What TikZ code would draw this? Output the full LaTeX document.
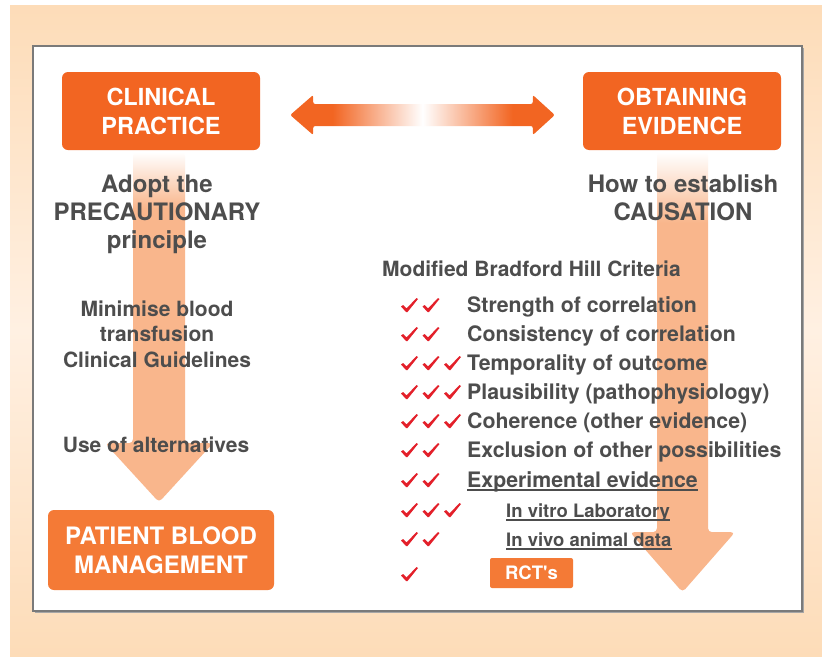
\documentclass[tikz,border=0pt]{standalone}
\usepackage{fontspec}
\setmainfont{TeX Gyre Heros}
\usetikzlibrary{calc}

\definecolor{boxorange}{HTML}{F26522}
\definecolor{softorange}{HTML}{F47A36}
\definecolor{arrowpeach}{HTML}{F9B68C}
\definecolor{darktext}{HTML}{4D4D4D}
\definecolor{tickred}{HTML}{E3202A}
\definecolor{bgpeach}{HTML}{FDDCB8}
\definecolor{bglight}{HTML}{FFF0E2}
\definecolor{framegrey}{HTML}{7A7A7A}

% fat arrows fade out towards their start
\pgfdeclareverticalshading{fadedown}{100bp}{color(0bp)=(arrowpeach); color(67bp)=(arrowpeach); color(75bp)=(white); color(100bp)=(white)}
\pgfdeclarehorizontalshading{fadeboth}{100bp}{color(0bp)=(boxorange); color(33bp)=(boxorange); color(50bp)=(white); color(67bp)=(boxorange); color(100bp)=(boxorange)}

\tikzset{
  headbox/.style={fill=boxorange, rounded corners=6pt, text=white, align=center,
    font=\bfseries\fontsize{23.5}{29}\selectfont, minimum width=198pt, minimum height=78pt},
  big/.style={text=darktext, font=\bfseries\fontsize{24}{28}\selectfont, align=center, inner sep=0pt, anchor=base},
  mid/.style={text=darktext, font=\bfseries\fontsize{21}{25.5}\selectfont, align=center, inner sep=0pt, anchor=base},
  item/.style={text=darktext, font=\bfseries\fontsize{21.3}{25}\selectfont, inner sep=0pt, anchor=base west},
  subitem/.style={item, font=\bfseries\fontsize{18.5}{22}\selectfont},
  uline/.style={darktext, line width=1.3pt},
  redtick/.pic={\fill[tickred] (0,8.5) -- (2.2,7) -- (5.5,10.5) -- (15.5,0) -- (17,1) -- (6.5,14) -- (5,14) -- cycle;},
}
% #1 ticks in front of the line with baseline #2
\newcommand\tickrow[2]{\foreach \k in {1,...,#1}{\pic at ({401+21.5*(\k-1)},#2-14) {redtick};}}

\begin{document}
\begin{tikzpicture}[x=1pt,y=-1pt]
\useasboundingbox (0,0) rectangle (822,656);
\shade[top color=bgpeach, bottom color=bgpeach, middle color=bglight] (10,5) rectangle (822,656);
\fill[gray!70] (34.5,47.5) rectangle (803.5,612.5);
\draw[fill=white, draw=framegrey, line width=1.2pt] (33,46) rectangle (802,611);

\node[headbox] (clin) at (161,111) {CLINICAL\\PRACTICE};
\node[headbox] (evid) at (682,111) {OBTAINING\\EVIDENCE};

% down arrows
\coordinate (la) at ($(clin.south)+(-2,2)$);
\coordinate (ra) at ($(evid.south)+(0.5,2)$);
\shade[shading=fadedown, rounded corners=4pt] (la) ++(-26,0) -- ++(0,291) -- ++(-28,0) -- ++(54,59)
  -- ++(54,-59) -- ++(-28,0) -- ++(0,-291) -- cycle;
\shade[shading=fadedown, rounded corners=4pt] (ra) ++(-25.5,0) -- ++(0,380) -- ++(-27,0) -- ++(52.5,60)
  -- ++(52.5,-60) -- ++(-27,0) -- ++(0,-380) -- cycle;

% double arrow between the two boxes
\coordinate (dl) at ($(clin.east)+(30,4)$);
\coordinate (dr) at ($(evid.west)+(-28,4)$);
\shade[shading=fadeboth, rounded corners=2pt] (dl) -- ($(dl)+(23,-20)$) -- ($(dl)+(23,-11)$) -- ($(dr)+(-22,-11)$)
  -- ($(dr)+(-22,-20)$) -- (dr) -- ($(dr)+(-22,20)$) -- ($(dr)+(-22,11)$) -- ($(dl)+(23,11)$) -- ($(dl)+(23,20)$) -- cycle;

\node[fill=softorange, rounded corners=6pt, text=white, align=center, font=\bfseries\fontsize{24}{29}\selectfont,
  minimum width=226pt, minimum height=80pt] (pbm) at (161,550) {PATIENT BLOOD\\MANAGEMENT};

% left column (base = last line)
\node[big] (adopt) at (157,248) {Adopt the\\PRECAUTIONARY\\principle};
\node[mid] (minim) at (157,367) {Minimise blood\\transfusion\\Clinical Guidelines};
\node[mid] (alter) at (156,452) {Use of alternatives};

% right column
\node[big] (howto) at (683,220) {How to establish\\CAUSATION};
\node[item, font=\bfseries\fontsize{21}{24}\selectfont] (bhill) at (382,276) {Modified Bradford Hill Criteria};
\foreach \txt/\yb/\n [count=\i] in {Strength of correlation/312/2, Consistency of correlation/341/2,
    Temporality of outcome/370/3, {Plausibility (pathophysiology)}/399/3,
    {Coherence (other evidence)}/428/3, Exclusion of other possibilities/457/2}{
  \node[item] (crit\i) at (467,\yb) {\txt};
  \tickrow{\n}{\yb}
}
\node[item] (exper) at (467,487) {Experimental evidence};
\node[subitem] (vitro) at (506,517) {In vitro Laboratory};
\node[subitem] (vivo) at (506,546) {In vivo animal data};
\foreach \nm in {exper,vitro,vivo}
  \draw[uline] ([yshift=-3pt]\nm.base west) -- ([yshift=-3pt]\nm.base east);
\tickrow{2}{487}
\tickrow{3}{517}
\tickrow{2}{546}
\node[fill=softorange, rounded corners=2pt, text=white, font=\bfseries\fontsize{18.5}{22}\selectfont,
  minimum width=83pt, minimum height=30pt] (rct) at (531.5,573) {RCT\textquotesingle s};
\tickrow{1}{581}
\end{tikzpicture}
\end{document}
